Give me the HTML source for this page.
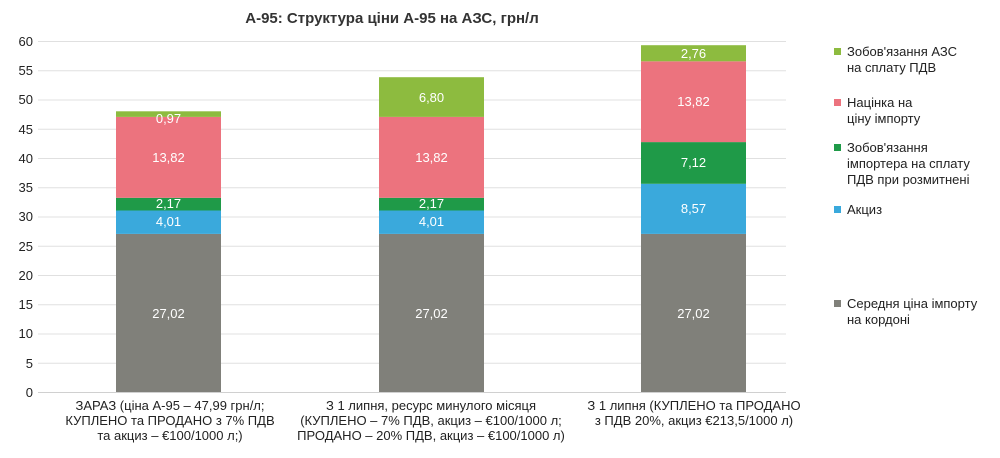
<!DOCTYPE html>
<html><head><meta charset="utf-8"><style>
body{margin:0;background:#fff;}
svg{display:block;font-family:"Liberation Sans","DejaVu Sans",sans-serif;}
</style></head><body>
<svg width="1000" height="458" viewBox="0 0 1000 458">
<text x="392" y="23" text-anchor="middle" font-size="15" font-weight="bold" fill="#333">А-95: Структура ціни А-95 на АЗС, грн/л</text>
<g stroke="#e0e0e0" stroke-width="1">
<line x1="38" x2="786" y1="41.5" y2="41.5"/><line x1="38" x2="786" y1="70.75" y2="70.75"/>
<line x1="38" x2="786" y1="100" y2="100"/><line x1="38" x2="786" y1="129.25" y2="129.25"/>
<line x1="38" x2="786" y1="158.5" y2="158.5"/><line x1="38" x2="786" y1="187.75" y2="187.75"/>
<line x1="38" x2="786" y1="217" y2="217"/><line x1="38" x2="786" y1="246.25" y2="246.25"/>
<line x1="38" x2="786" y1="275.5" y2="275.5"/><line x1="38" x2="786" y1="304.75" y2="304.75"/>
<line x1="38" x2="786" y1="334" y2="334"/><line x1="38" x2="786" y1="363.25" y2="363.25"/>
</g>
<line x1="38" x2="786" y1="392.5" y2="392.5" stroke="#d0d0d0"/>
<g font-size="13" fill="#222" text-anchor="end">
<text x="33" y="46">60</text><text x="33" y="75">55</text><text x="33" y="104">50</text><text x="33" y="134">45</text>
<text x="33" y="163">40</text><text x="33" y="192">35</text><text x="33" y="221">30</text><text x="33" y="251">25</text>
<text x="33" y="280">20</text><text x="33" y="309">15</text><text x="33" y="338">10</text><text x="33" y="368">5</text><text x="33" y="397">0</text>
</g>
<!-- bar1 -->
<rect x="116" y="233.9" width="105" height="158.1" fill="#80807a"/>
<rect x="116" y="210.5" width="105" height="23.4" fill="#3aa9dc"/>
<rect x="116" y="197.8" width="105" height="12.7" fill="#1f9a48"/>
<rect x="116" y="116.9" width="105" height="80.9" fill="#ec737e"/>
<rect x="116" y="111.3" width="105" height="5.6" fill="#8dbb3f"/>
<!-- bar2 -->
<rect x="379" y="233.9" width="105" height="158.1" fill="#80807a"/>
<rect x="379" y="210.5" width="105" height="23.4" fill="#3aa9dc"/>
<rect x="379" y="197.8" width="105" height="12.7" fill="#1f9a48"/>
<rect x="379" y="116.9" width="105" height="80.9" fill="#ec737e"/>
<rect x="379" y="77.2" width="105" height="39.7" fill="#8dbb3f"/>
<!-- bar3 -->
<rect x="641" y="233.9" width="105" height="158.1" fill="#80807a"/>
<rect x="641" y="183.8" width="105" height="50.1" fill="#3aa9dc"/>
<rect x="641" y="142.1" width="105" height="41.7" fill="#1f9a48"/>
<rect x="641" y="61.3" width="105" height="80.8" fill="#ec737e"/>
<rect x="641" y="45.2" width="105" height="16.1" fill="#8dbb3f"/>
<g font-size="13" fill="#fff" text-anchor="middle">
<text x="168.5" y="318">27,02</text><text x="168.5" y="226">4,01</text><text x="168.5" y="208">2,17</text><text x="168.5" y="162">13,82</text><text x="168.5" y="123">0,97</text>
<text x="431.5" y="318">27,02</text><text x="431.5" y="226">4,01</text><text x="431.5" y="208">2,17</text><text x="431.5" y="162">13,82</text><text x="431.5" y="102">6,80</text>
<text x="693.5" y="318">27,02</text><text x="693.5" y="213">8,57</text><text x="693.5" y="167">7,12</text><text x="693.5" y="106">13,82</text><text x="693.5" y="58">2,76</text>
</g>
<g font-size="13" fill="#222" text-anchor="middle">
<text x="170" y="410">ЗАРАЗ (ціна А-95 – 47,99 грн/л;</text>
<text x="170" y="425">КУПЛЕНО та ПРОДАНО з 7% ПДВ</text>
<text x="170" y="440">та акциз – €100/1000 л;)</text>
<text x="431" y="410">З 1 липня, ресурс минулого місяця</text>
<text x="431" y="425">(КУПЛЕНО – 7% ПДВ, акциз – €100/1000 л;</text>
<text x="431" y="440">ПРОДАНО – 20% ПДВ, акциз – €100/1000 л)</text>
<text x="694" y="410">З 1 липня (КУПЛЕНО та ПРОДАНО</text>
<text x="694" y="425">з ПДВ 20%, акциз €213,5/1000 л)</text>
</g>
<g font-size="13" fill="#222">
<rect x="834" y="48" width="7" height="7" fill="#8dbb3f"/>
<text x="847" y="56">Зобов'язання АЗС</text><text x="847" y="72">на сплату ПДВ</text>
<rect x="834" y="99" width="7" height="7" fill="#ec737e"/>
<text x="847" y="107">Націнка на</text><text x="847" y="123">ціну імпорту</text>
<rect x="834" y="144" width="7" height="7" fill="#1f9a48"/>
<text x="847" y="152">Зобов'язання</text><text x="847" y="168">імпортера на сплату</text><text x="847" y="184">ПДВ при розмитнені</text>
<rect x="834" y="206" width="7" height="7" fill="#3aa9dc"/>
<text x="847" y="214">Акциз</text>
<rect x="834" y="300" width="7" height="7" fill="#80807a"/>
<text x="847" y="308">Середня ціна імпорту</text><text x="847" y="324">на кордоні</text>
</g>
</svg>
</body></html>
